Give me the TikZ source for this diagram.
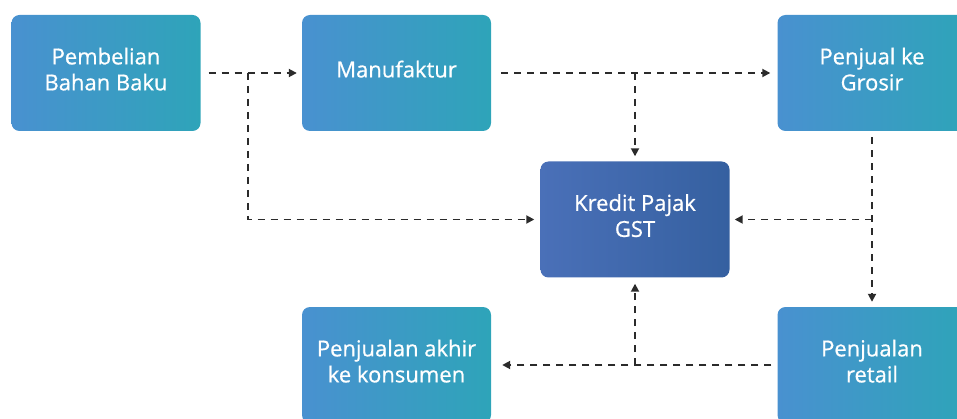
\documentclass[tikz,border=0pt]{standalone}
\usepackage{fontspec}
\setmainfont{Open Sans}
\newfontfamily\stagefont{Open Sans}[FakeBold=0.7]
\usetikzlibrary{arrows.meta,calc,positioning}
\definecolor{stageblue}{HTML}{4991D0}
\definecolor{stageteal}{HTML}{2EA4B9}
\definecolor{gstblue}{HTML}{4A70B8}
\definecolor{gstdark}{HTML}{3560A0}
\definecolor{flowgray}{HTML}{2B2B2B}

\begin{document}
\begin{tikzpicture}[x=1pt,y=-1pt,
  stage/.style={rounded corners=8pt,minimum width=189pt,minimum height=116pt,inner sep=0pt,
    left color=stageblue,right color=stageteal,text=white,align=center,text depth=8pt,
    font=\stagefont\fontsize{22}{26}\selectfont},
  gst/.style={stage,left color=gstblue,middle color=gstblue!96!gstdark,right color=gstdark},
  flow/.style={flowgray,line width=1.8pt,dash pattern=on 7pt off 6pt,-{Triangle[length=8pt,width=8pt]}}]
  \clip (0,0) rectangle (957,419);
  \node[stage] (beli) at (106,73) {Pembelian\\Bahan Baku};
  \node[stage] (manuf) at (396.5,73) {Manufaktur};
  \node[stage] (penjual) at (872,73) {Penjual ke\\Grosir};
  \node[gst] (kredit) at (635,219.5) {Kredit Pajak\\GST};
  \node[stage] (akhir) at (396.5,365) {Penjualan akhir\\ke konsumen};
  \node[stage] (retail) at (872,365) {Penjualan\\retail};
  \coordinate (split) at ($(beli.east)!0.47!(manuf.west)$);
  \draw[flow,shorten <=8pt,shorten >=5pt] (beli) -- (manuf);
  \draw[flow,shorten >=6pt] (split) |- (kredit.west);
  \draw[flow,shorten <=10pt,shorten >=7pt] (manuf) -- (penjual);
  \draw[flow,shorten >=5pt] (manuf.east -| kredit.north) -- (kredit.north);
  \draw[flow,shorten <=6pt,shorten >=5pt] (penjual.south) -- (retail.north);
  \draw[flow,shorten >=5pt] (kredit.east -| penjual.south) -- (kredit.east);
  \draw[flow,shorten <=6pt,shorten >=11pt] (retail) -- (akhir);
  \draw[flow,shorten >=6pt] (akhir.east -| kredit.south) -- (kredit.south);
\end{tikzpicture}
\end{document}
